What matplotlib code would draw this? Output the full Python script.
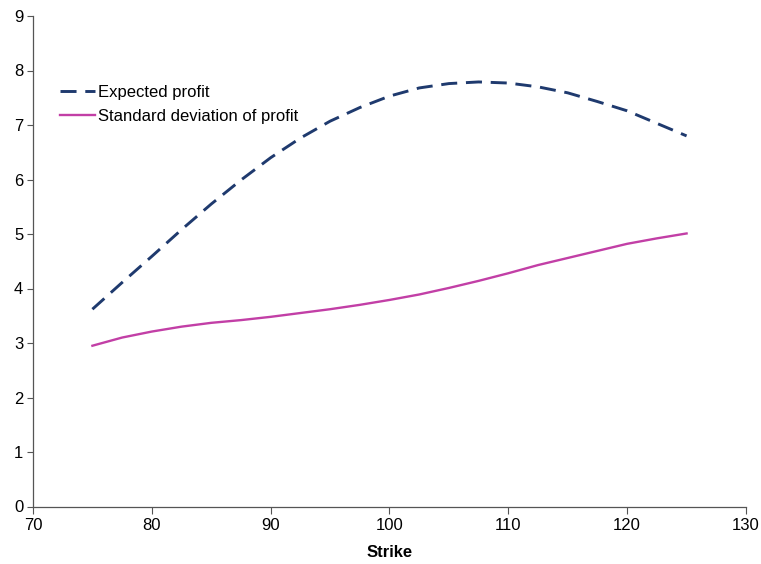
import matplotlib
matplotlib.use("Agg")
import matplotlib.pyplot as plt

# ── Data ──────────────────────────────────────────────────────────────────────
strike = [75, 77.5, 80, 82.5, 85, 87.5, 90, 92.5, 95, 97.5, 100,
          102.5, 105, 107.5, 110, 112.5, 115, 117.5, 120, 122.5, 125]
expected_profit = [3.62, 4.11, 4.59, 5.08, 5.55, 5.99, 6.40, 6.76, 7.07, 7.32, 7.53,
                   7.68, 7.76, 7.79, 7.77, 7.70, 7.59, 7.43, 7.26, 7.03, 6.80]
std_profit = [2.95, 3.10, 3.21, 3.30, 3.37, 3.42, 3.48, 3.55, 3.62, 3.70, 3.79,
              3.89, 4.01, 4.14, 4.28, 4.43, 4.56, 4.69, 4.82, 4.92, 5.01]

x_ticks = [70, 80, 90, 100, 110, 120, 130]
y_ticks = [0, 1, 2, 3, 4, 5, 6, 7, 8, 9]

NAVY = '#1F3A6E'
PINK = '#C23FA6'
AXIS = '#555555'

plt.rcParams['font.family'] = ['Liberation Sans', 'DejaVu Sans']

fig = plt.figure(figsize=(7.61, 5.64), dpi=100)
ax = fig.add_axes([33 / 761, 1 - 506.5 / 564, 713 / 761, 490.5 / 564])

ax.plot(strike, expected_profit, color=NAVY, lw=2.1, dashes=(5.5, 3),
        label='Expected profit')
ax.plot(strike, std_profit, color=PINK, lw=1.7,
        label='Standard deviation of profit')

ax.set_xlim(70, 130)
ax.set_ylim(0, 9)
ax.set_xticks(x_ticks)
ax.set_yticks(y_ticks)
ax.tick_params(axis='both', labelsize=12, colors='black', direction='out')
ax.tick_params(axis='x', length=5, width=0.8, color=AXIS, pad=3)
ax.tick_params(axis='y', length=4, width=0.8, color=AXIS, pad=3)

for side in ('top', 'right'):
    ax.spines[side].set_visible(False)
for side in ('left', 'bottom'):
    ax.spines[side].set_color(AXIS)
    ax.spines[side].set_linewidth(0.9)

ax.set_xlabel('Strike', fontsize=12, fontweight='bold', labelpad=9)

ax.legend(loc='upper left', bbox_to_anchor=(0.038, 0.8594), frameon=False,
          fontsize=12, handlelength=2.1, handletextpad=0.2,
          borderpad=0, borderaxespad=0, labelspacing=0.56)

fig.savefig('out.png', dpi=100, facecolor='white')
